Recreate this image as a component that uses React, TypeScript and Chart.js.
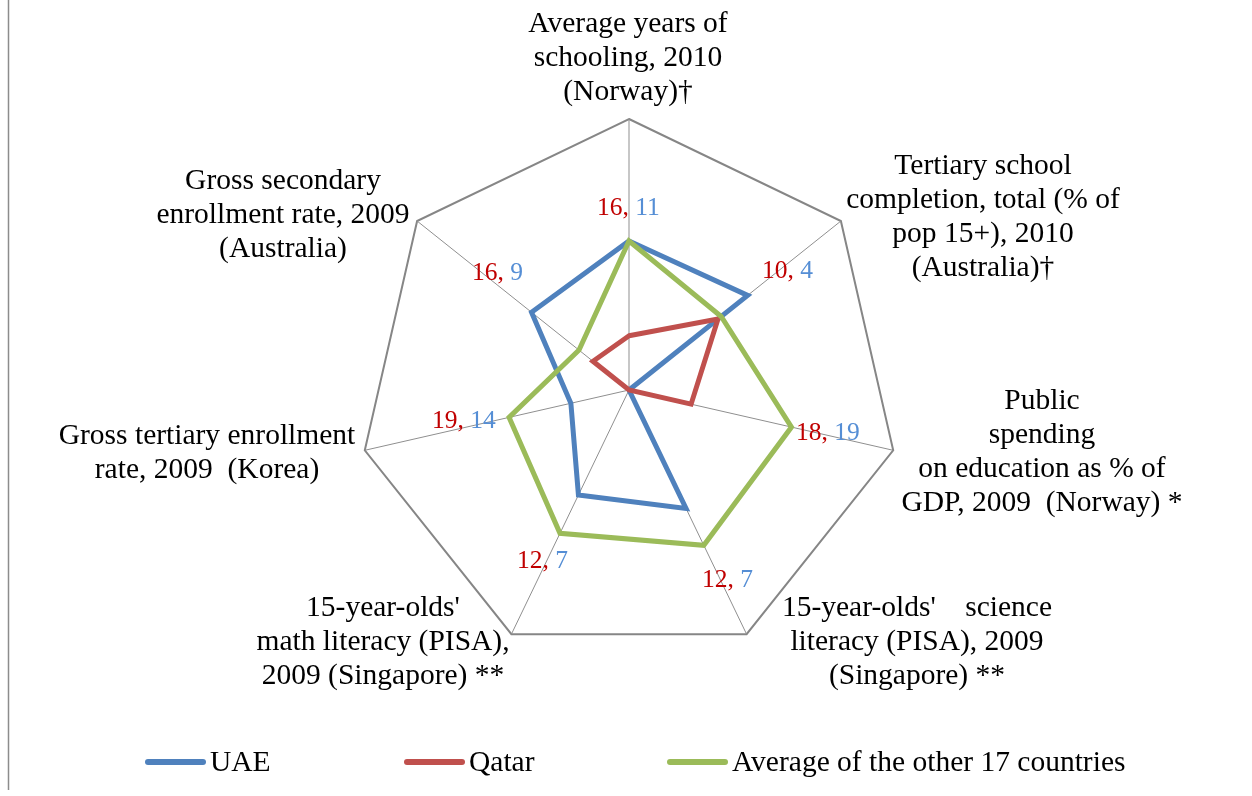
import React, { useEffect, useRef } from "react";
import { Chart, registerables } from "chart.js";

Chart.register(...registerables);

// ---------------- data ----------------
const categories: string[][] = [
  ["Average years of", "schooling, 2010", "(Norway)†"],
  ["Tertiary school", "completion, total (% of", "pop 15+), 2010", "(Australia)†"],
  ["Public", "spending", "on education as % of", "GDP, 2009  (Norway) *"],
  ["15-year-olds'    science", "literacy (PISA), 2009", "(Singapore) **"],
  ["15-year-olds'", "math literacy (PISA),", "2009 (Singapore) **"],
  ["Gross tertiary enrollment", "rate, 2009  (Korea)"],
  ["Gross secondary", "enrollment rate, 2009", "(Australia)"],
];
const seriesNames = ["UAE", "Qatar", "Average of the other 17 countries"];
const uaeValues = [0.55, 0.56, 0, 0.485, 0.43, 0.22, 0.46];
const qatarValues = [0.2, 0.42, 0.235, 0, 0, 0, 0.17];
const avgValues = [0.55, 0.435, 0.615, 0.636, 0.587, 0.454, 0.236];
const qatarRanks = [16, 10, 18, 12, 12, 19, 16];
const uaeRanks = [11, 4, 19, 7, 7, 14, 9];

// ---------------- layout / style ----------------
const W = 1252;
const H = 796;
const FONT = "'Liberation Serif', 'Times New Roman', serif";
const COLORS = ["#4F81BD", "#C0504D", "#9BBB59"];
const RANK_RED = "#C00000";
const RANK_BLUE = "#558ED5";
// category label anchors: [center x, first line center y]
const labelPos: [number, number][] = [
  [628, 24],
  [983, 166],
  [1042, 401],
  [917, 608],
  [383, 608],
  [207, 436],
  [283, 181],
];
// rank label anchors: [left x, center y]
const rankPos: [number, number][] = [
  [597, 208],
  [762, 271],
  [796, 433],
  [702, 580],
  [517, 561],
  [432, 421],
  [472, 273],
];
const legendPos: [number, number, number][] = [
  [145, 206, 762],
  [404, 465, 762],
  [667, 728, 762],
];

const overlayPlugin = {
  id: "overlay",
  afterDraw(chart: any) {
    const ctx: CanvasRenderingContext2D = chart.ctx;
    ctx.save();
    // left border line
    ctx.strokeStyle = "#8c8c8c";
    ctx.lineWidth = 1.5;
    ctx.beginPath();
    ctx.moveTo(8.5, 0);
    ctx.lineTo(8.5, 790);
    ctx.stroke();

    // category labels
    ctx.fillStyle = "#000";
    ctx.font = `29.5px ${FONT}`;
    ctx.textAlign = "center";
    ctx.textBaseline = "middle";
    categories.forEach((lines, i) => {
      const [cx, cy] = labelPos[i];
      lines.forEach((ln, j) => ctx.fillText(ln, cx, cy + j * 34));
    });

    // rank labels
    ctx.font = `25.5px ${FONT}`;
    ctx.textAlign = "left";
    categories.forEach((_, i) => {
      const [x, y] = rankPos[i];
      const a = `${qatarRanks[i]},`;
      ctx.fillStyle = RANK_RED;
      ctx.fillText(a, x, y);
      const wa = ctx.measureText(a + " ").width;
      ctx.fillStyle = RANK_BLUE;
      ctx.fillText(String(uaeRanks[i]), x + wa, y);
    });

    // legend
    ctx.font = `29.5px ${FONT}`;
    ctx.lineCap = "round";
    ctx.lineWidth = 6;
    seriesNames.forEach((name, i) => {
      const [x0, x1, y] = legendPos[i];
      ctx.strokeStyle = COLORS[i];
      ctx.beginPath();
      ctx.moveTo(x0 + 3, y);
      ctx.lineTo(x1 - 3, y);
      ctx.stroke();
      ctx.fillStyle = "#000";
      ctx.fillText(name, x1 + 4, y + 1);
    });
    ctx.restore();
  },
};

export default function App() {
  const ref = useRef<HTMLCanvasElement>(null);
  useEffect(() => {
    if (!ref.current) return;
    const mk = (label: string, data: number[], color: string, order: number) => ({
      label,
      data,
      borderColor: color,
      backgroundColor: color,
      borderWidth: 5,
      pointRadius: 0,
      pointHoverRadius: 0,
      fill: false,
      tension: 0,
      borderJoinStyle: "miter" as const,
      order,
    });
    const chart = new Chart(ref.current, {
      type: "radar",
      data: {
        labels: categories.map((c) => c.join(" ")),
        datasets: [
          mk(seriesNames[0], uaeValues, COLORS[0], 2),
          mk(seriesNames[1], qatarValues, COLORS[1], 1),
          mk(seriesNames[2], avgValues, COLORS[2], 0),
        ],
      },
      options: {
        responsive: false,
        animation: false,
        layout: { padding: { left: 358, right: 352, top: 119, bottom: 135 } },
        plugins: { legend: { display: false }, tooltip: { enabled: false } },
        scales: {
          r: {
            min: 0,
            max: 1,
            ticks: { display: false, stepSize: 1 },
            pointLabels: { display: false },
            grid: { color: "#868686", lineWidth: 2, circular: false },
            angleLines: { color: "#8f8f8f", lineWidth: 1 },
          },
        },
      },
      plugins: [overlayPlugin],
    });
    return () => chart.destroy();
  }, []);
  return (
    <div style={{ position: "fixed", left: 0, top: 0, width: W, height: H, background: "#fff" }}>
      <canvas ref={ref} width={W} height={H} style={{ display: "block" }} />
    </div>
  );
}
